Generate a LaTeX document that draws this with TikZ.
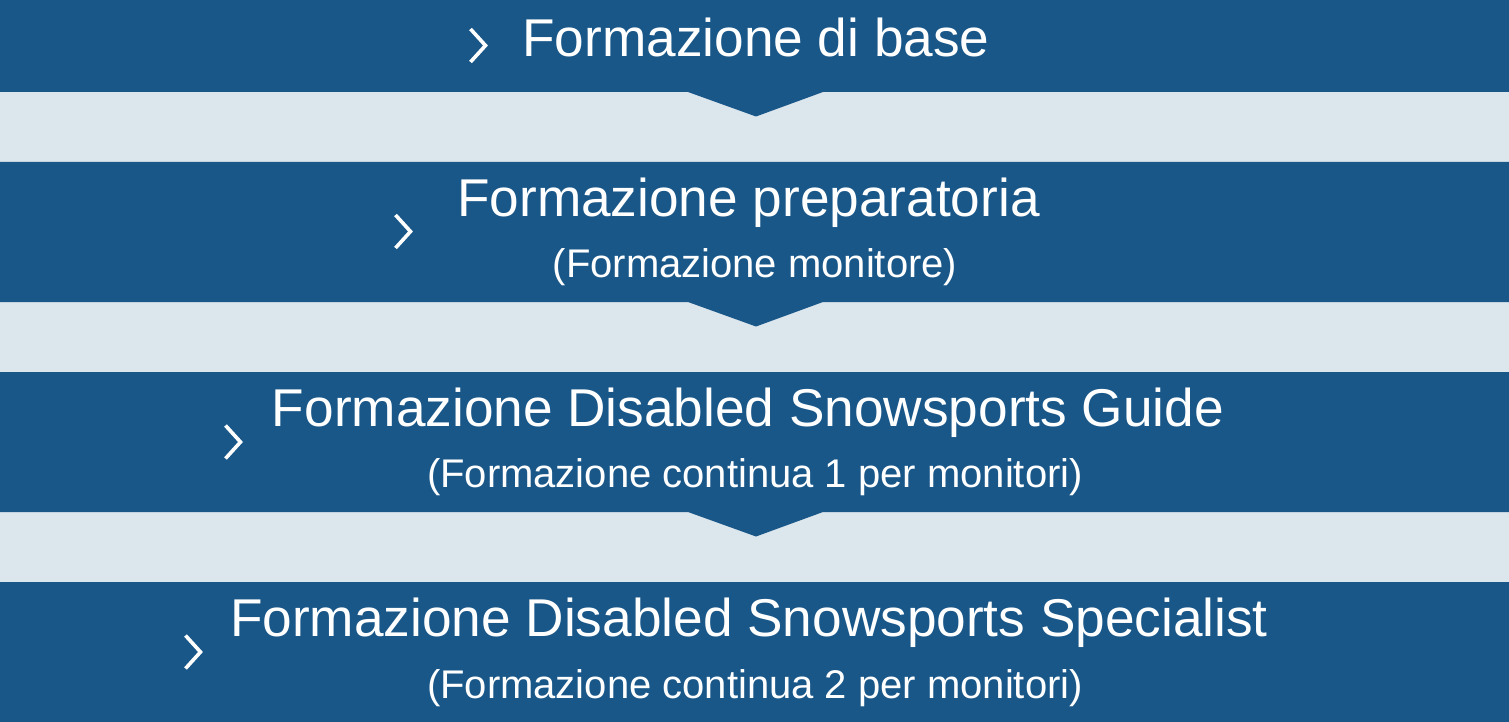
\documentclass[tikz,border=0pt]{standalone}
\usepackage{fontspec}
\setmainfont{Liberation Sans}
\definecolor{bandblue}{RGB}{25,87,137}
\definecolor{gapgray}{RGB}{220,230,237}
\tikzset{
  band/.style={fill=bandblue,draw=none},
  chev/.style={draw=white,line width=3.6pt,line join=miter,line cap=butt},
  titletext/.style={text=white,inner sep=0pt,anchor=base,font=\fontsize{53.2}{60}\selectfont},
  subtext/.style={text=white,inner sep=0pt,anchor=base,font=\fontsize{40}{45}\selectfont},
}
\begin{document}
\begin{tikzpicture}[x=1pt,y=-1pt]
\useasboundingbox (0,0) rectangle (1509,722);
\fill[gapgray] (0,0) rectangle (1509,722);
% bands with notches
\path[band] (0,0) -- (1509,0) -- (1509,92) -- (823,92) -- (756,116.5) -- (688,92) -- (0,92) -- cycle;
\path[band] (0,162) -- (1509,162) -- (1509,302) -- (823,302) -- (756,326.5) -- (688,302) -- (0,302) -- cycle;
\path[band] (0,372) -- (1509,372) -- (1509,512) -- (823,512) -- (756,536.5) -- (688,512) -- (0,512) -- cycle;
\path[band] (0,582) rectangle (1509,722);
% chevrons
\coordinate (c1) at (485.5,45.5);
\coordinate (c2) at (410.5,231.5);
\coordinate (c3) at (240.5,442);
\coordinate (c4) at (200.5,652);
\foreach \c in {c1,c2,c3,c4}{
  \draw[chev] (\c) ++(-15,-16.5) -- (\c) -- ++(-15,16.5);
}
% texts
\node[titletext] (t1) at (756,57) {Formazione di base};
\node[titletext] (t2) at (748.5,216) {Formazione preparatoria};
\node[subtext] (s2) at (755,277) {(Formazione monitore)};
\node[titletext] (t3) at (748,426) {Formazione Disabled Snowsports Guide};
\node[subtext] (s3) at (755,487) {(Formazione continua 1 per monitori)};
\node[titletext] (t4) at (749,636) {Formazione Disabled Snowsports Specialist};
\node[subtext] (s4) at (755,698) {(Formazione continua 2 per monitori)};
\end{tikzpicture}
\end{document}
